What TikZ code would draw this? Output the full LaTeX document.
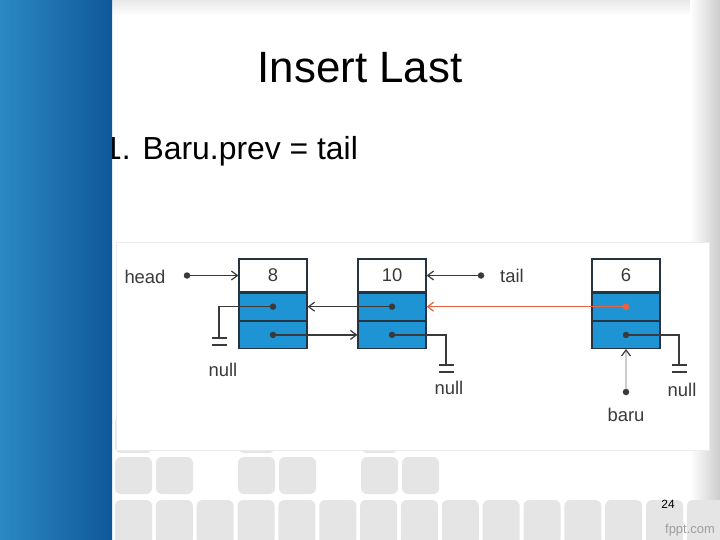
\documentclass[tikz,border=0pt]{standalone}
\usepackage{fontspec}
\setmainfont{Liberation Sans}
\usetikzlibrary{positioning, arrows.meta}

\definecolor{cellblue}{RGB}{30,148,212}
\definecolor{celledge}{RGB}{38,52,66}
\definecolor{linegray}{RGB}{58,58,58}
\definecolor{newred}{RGB}{236,98,62}
\definecolor{tilegray}{RGB}{229,229,229}
\definecolor{bandleft}{RGB}{42,136,194}
\definecolor{bandright}{RGB}{16,88,154}

\begin{document}
\begin{tikzpicture}[x=1bp, y=-1bp,
    info/.style={draw=celledge, line width=1.2bp, fill=white, minimum width=68bp, minimum height=33bp, inner sep=0pt, font=\fontsize{18.5}{20}\selectfont, text=linegray},
    link/.style={draw=celledge, line width=1.2bp, fill=cellblue, minimum width=68bp, minimum height=27bp, inner sep=0pt},
    lbl/.style={font=\fontsize{18.5}{20}\selectfont, text=linegray, inner sep=0pt},
    ptr/.style={-{Straight Barb[length=6bp, width=9bp]}, line width=1.2bp, draw=linegray},
    wire/.style={line width=1.2bp, draw=linegray},
    dot/.style={circle, fill=linegray, minimum size=6.5bp, inner sep=0pt},
    tile/.style={fill=tilegray, rounded corners=6bp}
  ]
    \useasboundingbox (0,0) rectangle (720,540);

    % --- Slide background ---
    \fill[white] (0,0) rectangle (720,540);
    \shade[top color=black!9, bottom color=white] (112,0) rectangle (720,15);
    \shade[left color=white, right color=black!20] (690,0) rectangle (720,540);
    \foreach \tx in {115,238,361} \fill[tile] (\tx,416) rectangle ++(37,37);
    \foreach \tx in {115,156,238,279,361,402} \fill[tile] (\tx,457) rectangle ++(37,37);
    \foreach \i in {0,...,14} \fill[tile] ({115+40.85*\i},500) rectangle ++(37,45);
    \fill[white, draw=black!8] (116,242) rectangle (709,450);

    % --- Title and step ---
    \node[font=\fontsize{44}{50}\selectfont, anchor=base] (title) at (360,83) {Insert Last};
    \node[font=\fontsize{32}{38}\selectfont, anchor=base west, inner sep=0pt] (step) at (104,160) {1. Baru.prev = tail};

    % --- List nodes ---
    \node[info] (n8) at (273,275.5) {8};
    \node[link, below=0pt of n8] (n8prev) {};
    \node[link, below=0pt of n8prev] (n8next) {};
    \node[info] (n10) at (392,275.5) {10};
    \node[link, below=0pt of n10] (n10prev) {};
    \node[link, below=0pt of n10prev] (n10next) {};
    \node[info] (n6) at (626,275.5) {6};
    \node[link, below=0pt of n6] (n6prev) {};
    \node[link, below=0pt of n6prev] (n6next) {};

    % --- Pointer dots ---
    \node[dot] (d8p) at (n8prev.center) {};
    \node[dot] (d8n) at (n8next.center) {};
    \node[dot] (d10p) at (n10prev.center) {};
    \node[dot] (d10n) at (n10next.center) {};
    \node[dot, fill=newred] (d6p) at (n6prev.center) {};
    \node[dot] (d6n) at (n6next.center) {};

    % --- Labels ---
    \node[lbl] (headlbl) at (145,277) {head};
    \node[dot] (headdot) at (187,275.5) {};
    \node[lbl] (taillbl) at (512,276) {tail};
    \node[dot] (taildot) at (481,275.5) {};
    \node[lbl] (barulbl) at (626,415) {baru};
    \node[dot] (barudot) at (626,392) {};
    \node[lbl] (null8) at (223,370) {null};
    \node[lbl] (null10) at (449,388) {null};
    \node[lbl] (null6) at (682,390) {null};

    % --- Ground points ---
    \coordinate (g8) at (219,338);
    \coordinate (g10) at (446,365);
    \coordinate (g6) at (679,365);

    % --- Links ---
    \draw[ptr] (headdot) -- (n8.west);
    \draw[ptr] (taildot) -- (n10.east);
    \draw[ptr] (d10p) -- (n8prev.east);
    \draw[ptr] (d8n) -- (n10next.west);
    \draw[ptr, draw=newred] (d6p) -- (n10prev.east);
    \draw[ptr, draw=black!20, -{Straight Barb[length=6bp, width=9bp, color=linegray]}] (barudot) -- (n6next.south);
    \draw[wire] (d8p) -| (g8);
    \draw[wire] (d10n) -| (g10);
    \draw[wire] (d6n) -| (g6);
    \foreach \g in {g8,g10,g6} {
      \draw[wire] ([xshift=-7.5bp]\g) -- ([xshift=7.5bp]\g);
      \draw[wire] ([xshift=-7.5bp, yshift=-7bp]\g) -- ([xshift=7.5bp, yshift=-7bp]\g);
    }

    % --- Footer ---
    \node[font=\fontsize{12}{14}\selectfont] (page) at (668,504) {24};
    \node[font=\fontsize{13}{15}\selectfont, text=black!38] (brand) at (690,530) {fppt.com};

    % --- Side band ---
    \shade[left color=bandleft, right color=bandright] (0,0) rectangle (112,540);
\end{tikzpicture}
\end{document}
